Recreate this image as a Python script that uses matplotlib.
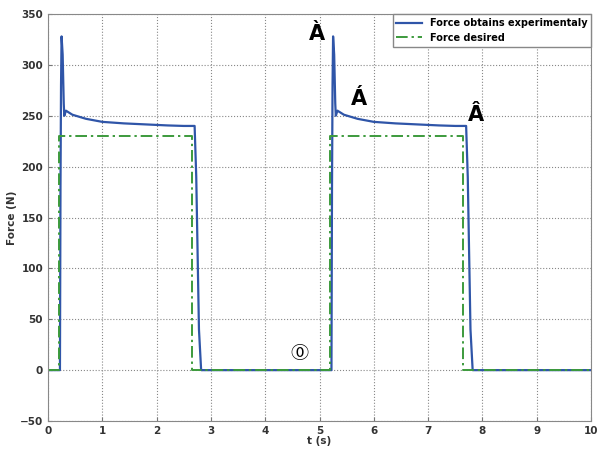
import numpy as np
import matplotlib.pyplot as plt

# measured force, one load cycle (time in s, force in N)
cycle_t = [0.0, 0.22, 0.23, 0.24, 0.25, 0.27, 0.29, 0.30, 0.33, 0.45, 0.7, 1.0, 1.4, 1.8, 2.2, 2.5, 2.70, 2.73, 2.78, 2.82]
cycle_f = [0.0, 0.0, 180, 280, 328, 310, 262, 250, 255, 251, 247, 244, 242.5, 241.5, 240.5, 240, 240, 190, 40, 0.0]
cycle_period = 5.0
t_end = 10.0

# desired force profile
desired_t = [0.0, 0.2, 0.2, 2.65, 2.65, 5.2, 5.2, 7.65, 7.65, 10.0]
desired_f = [0, 0, 230, 230, 0, 0, 230, 230, 0, 0]

# point labels on the curve
labels = ['À', 'Á', 'Â', '⓪']
label_t = [4.96, 5.72, 7.88, 4.62]
label_f = [330, 266, 251, 16]

t_meas = np.concatenate([np.array(cycle_t) + k * cycle_period for k in range(2)] + [[t_end]])
f_meas = np.concatenate([cycle_f, cycle_f, [0.0]])

fig = plt.figure(figsize=(5.97, 4.55), dpi=100)
ax = fig.add_axes([0.0804, 0.0747, 0.9096, 0.8945])

ax.plot(t_meas, f_meas, color='#2f55a8', lw=1.6, label='Force obtains experimentaly')
ax.plot(desired_t, desired_f, color='#3c9a3c', lw=1.4, dashes=(6, 2, 1.2, 2),
        label='Force desired')

for s, x, y in zip(labels, label_t, label_f):
    if s == '⓪':
        ax.text(x, y, s, fontsize=13, ha='center', va='center',
                family=['DejaVu Sans', 'Noto Sans CJK SC'])
    else:
        ax.text(x, y, s, fontsize=15, fontweight='bold', ha='center', va='center')

ax.set_xlim(0, 10)
ax.set_ylim(-50, 350)
ax.set_xticks(np.arange(0, 11, 1))
ax.set_yticks(np.arange(-50, 351, 50))
ax.tick_params(labelsize=7.5, length=3, direction='in', color='#777777')
for lab in ax.get_xticklabels() + ax.get_yticklabels():
    lab.set_fontweight('bold')
    lab.set_color('#333333')
ax.grid(True, ls=':', color='#888888', lw=0.8)
for sp in ax.spines.values():
    sp.set_color('#888888')

ax.set_xlabel('t (s)', fontsize=7.5, fontweight='bold', labelpad=0, color='#333333')
ax.set_ylabel('Force (N)', fontsize=7.5, fontweight='bold', labelpad=2, color='#333333')

leg = ax.legend(loc='upper right', borderaxespad=0, fancybox=False,
                prop={'size': 7, 'weight': 'bold'}, handlelength=2.6, framealpha=1)
leg.get_frame().set_edgecolor('#888888')

fig.savefig('out.png', dpi=100)
